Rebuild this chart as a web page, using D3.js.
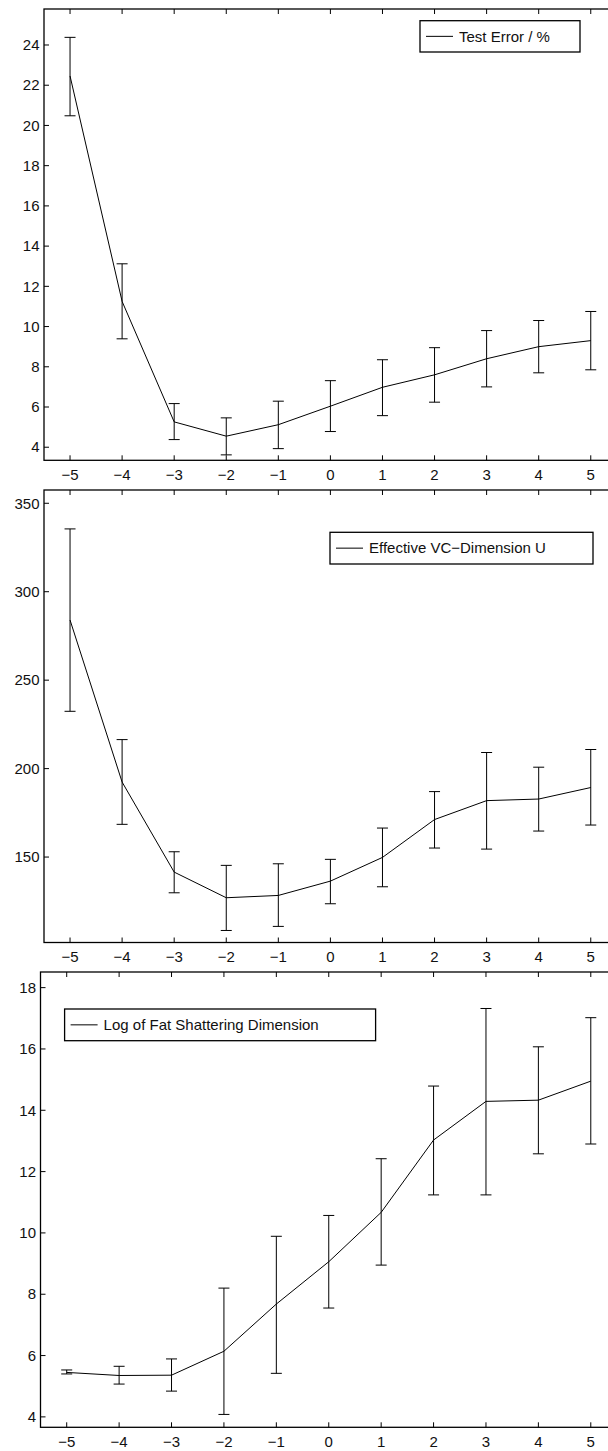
<!DOCTYPE html>
<html>
<head>
<meta charset="utf-8">
<script src="https://cdn.jsdelivr.net/npm/d3@7"></script>
<style>
    body { margin: 0; background: #fff; }
    svg text { font-family: "Liberation Sans", Arial, Helvetica, sans-serif; font-size: 15px; fill: #111; }
</style>
</head>
<body>
<svg id="chart" width="608" height="1451"></svg>
<script>
// x positions shared by the three panels
let xVals = [-5, -4, -3, -2, -1, 0, 1, 2, 3, 4, 5]

// panel 1 : test error
let testErrMean = [22.46, 11.25, 5.26, 4.55, 5.12, 6.04, 6.98, 7.6, 8.4, 9.0, 9.3]
let testErrLow = [20.48, 9.39, 4.38, 3.62, 3.93, 4.78, 5.57, 6.24, 7.0, 7.7, 7.85]
let testErrHigh = [24.38, 13.12, 6.17, 5.46, 6.29, 7.31, 8.35, 8.95, 9.8, 10.3, 10.75]
let testErrTicks = [4, 6, 8, 10, 12, 14, 16, 18, 20, 22, 24]

// panel 2 : effective VC dimension
let vcMean = [284, 192.4, 141.5, 127, 128.3, 136.4, 149.8, 171.2, 181.9, 182.8, 189.3]
let vcLow = [232.4, 168.5, 129.8, 108.5, 110.8, 123.6, 133.2, 155.1, 154.5, 164.7, 168.1]
let vcHigh = [335.5, 216.4, 153, 145.3, 146.2, 148.7, 166.4, 187, 209.1, 200.8, 210.8]
let vcTicks = [150, 200, 250, 300, 350]

// panel 3 : log of fat shattering dimension
let fatMean = [5.45, 5.35, 5.36, 6.14, 7.68, 9.06, 10.67, 13.03, 14.29, 14.33, 14.95]
let fatLow = [5.40, 5.07, 4.84, 4.08, 5.42, 7.55, 8.95, 11.24, 11.24, 12.58, 12.9]
let fatHigh = [5.53, 5.65, 5.89, 8.2, 9.89, 10.57, 12.42, 14.79, 17.32, 16.07, 17.02]
let fatTicks = [4, 6, 8, 10, 12, 14, 16, 18]

let svg = d3.select("#chart")

function drawPanel(opts) {
    let g = svg.append("g")
    let rows = xVals.map((v, i) => ({ x: v, m: opts.mean[i], lo: opts.low[i], hi: opts.high[i] }))

    let x = d3.scaleLinear().domain([-5.5, 5.5]).range([opts.left, opts.right])
    let y = d3.scaleLinear().domain(opts.yDomain).range([opts.bottom, opts.top])
    let tickLen = 5

    // frame (matlab style box)
    g.append("rect")
        .attr("x", opts.left).attr("y", opts.top)
        .attr("width", opts.right - opts.left).attr("height", opts.bottom - opts.top)
        .attr("fill", "none").attr("stroke", "#000").attr("stroke-width", 1.3)

    // x ticks, inside, top and bottom
    g.selectAll(".xtb").data(xVals).enter().append("line")
        .attr("x1", d => x(d)).attr("x2", d => x(d))
        .attr("y1", opts.bottom).attr("y2", opts.bottom - tickLen)
        .attr("stroke", "#000")
    g.selectAll(".xtt").data(xVals).enter().append("line")
        .attr("x1", d => x(d)).attr("x2", d => x(d))
        .attr("y1", opts.top).attr("y2", opts.top + tickLen)
        .attr("stroke", "#000")
    g.selectAll(".xl").data(xVals).enter().append("text")
        .attr("x", d => x(d)).attr("y", opts.bottom + 14)
        .attr("dy", "0.35em")
        .attr("text-anchor", "middle")
        .text(d => d3.format("")(d))

    // y ticks, inside, left and right
    g.selectAll(".ytl").data(opts.yTicks).enter().append("line")
        .attr("x1", opts.left).attr("x2", opts.left + tickLen)
        .attr("y1", d => y(d)).attr("y2", d => y(d))
        .attr("stroke", "#000")
    g.selectAll(".ytr").data(opts.yTicks).enter().append("line")
        .attr("x1", opts.right).attr("x2", opts.right - tickLen)
        .attr("y1", d => y(d)).attr("y2", d => y(d))
        .attr("stroke", "#000")
    g.selectAll(".yl").data(opts.yTicks).enter().append("text")
        .attr("x", opts.left - 4.5).attr("y", d => y(d))
        .attr("dy", "0.35em")
        .attr("text-anchor", "end")
        .text(d => d)

    // error bars
    let cap = 5.5
    let bars = g.selectAll(".eb").data(rows).enter().append("g")
    bars.append("line")
        .attr("x1", d => x(d.x)).attr("x2", d => x(d.x))
        .attr("y1", d => y(d.lo)).attr("y2", d => y(d.hi))
        .attr("stroke", "#000")
    bars.append("line")
        .attr("x1", d => x(d.x) - cap).attr("x2", d => x(d.x) + cap)
        .attr("y1", d => y(d.lo)).attr("y2", d => y(d.lo))
        .attr("stroke", "#000")
    bars.append("line")
        .attr("x1", d => x(d.x) - cap).attr("x2", d => x(d.x) + cap)
        .attr("y1", d => y(d.hi)).attr("y2", d => y(d.hi))
        .attr("stroke", "#000")

    // mean curve
    let line = d3.line().x(d => x(d.x)).y(d => y(d.m))
    g.append("path")
        .datum(rows)
        .attr("d", line)
        .attr("fill", "none")
        .attr("stroke", "#000")
        .attr("stroke-width", 1)

    // legend
    let lg = opts.legend
    g.append("rect")
        .attr("x", lg.x).attr("y", lg.y)
        .attr("width", lg.w).attr("height", lg.h)
        .attr("fill", "#fff").attr("stroke", "#000").attr("stroke-width", 1.3)
    g.append("line")
        .attr("x1", lg.x + 6).attr("x2", lg.x + 33)
        .attr("y1", lg.y + lg.h / 2).attr("y2", lg.y + lg.h / 2)
        .attr("stroke", "#000")
    g.append("text")
        .attr("x", lg.x + 39).attr("y", lg.y + lg.h / 2)
        .attr("dy", "0.35em")
        .text(lg.label)
}

drawPanel({
    left: 44, right: 616.8, top: 9, bottom: 460.3,
    yDomain: [3.35, 25.79], yTicks: testErrTicks,
    mean: testErrMean, low: testErrLow, high: testErrHigh,
    legend: { x: 420, y: 20.7, w: 160, h: 31.3, label: "Test Error / %" }
})

drawPanel({
    left: 44, right: 616.8, top: 490, bottom: 942.5,
    yDomain: [101.7, 357.5], yTicks: vcTicks,
    mean: vcMean, low: vcLow, high: vcHigh,
    legend: { x: 330, y: 532.3, w: 263, h: 31.7, label: "Effective VC\u2212Dimension U" }
})

drawPanel({
    left: 40.5, right: 617, top: 972, bottom: 1427.3,
    yDomain: [3.66, 18.51], yTicks: fatTicks,
    mean: fatMean, low: fatLow, high: fatHigh,
    legend: { x: 64.6, y: 1009, w: 311, h: 31.7, label: "Log of Fat Shattering Dimension" }
})
</script>
</body>
</html>
